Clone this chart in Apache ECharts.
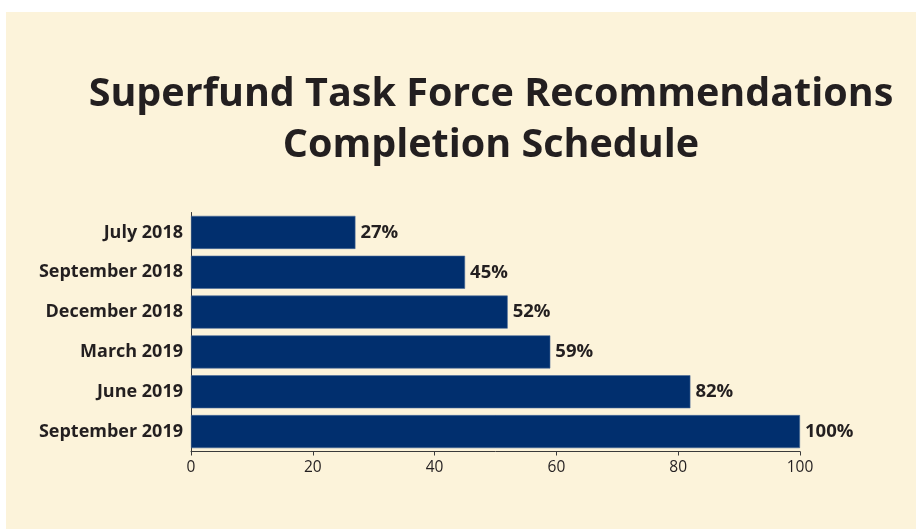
<!DOCTYPE html>
<html><head><meta charset="utf-8">
<script src="https://cdn.jsdelivr.net/npm/echarts@6/dist/echarts.min.js"></script>
<style>html,body{margin:0;padding:0;background:#fff;}#c{width:916px;height:529px;}</style>
</head><body><div id="c"></div>
<script>
const categories = ["July 2018","September 2018","December 2018","March 2019","June 2019","September 2019"];
const values = [27,45,52,59,82,100];
const titleLines = ["Superfund Task Force Recommendations","Completion Schedule"];
const xTicks = [0,20,40,60,80,100];

const chart = echarts.init(document.getElementById('c'), null, {renderer:'canvas'});
chart.setOption({
  backgroundColor:'#ffffff',
  animation:false,
  graphic:[{type:'rect', z:-10, shape:{x:6,y:12,width:910,height:517}, style:{fill:'#FCF3DA'}}],
  title:{
    text: titleLines.join('\n'),
    left: 486, top: 64, textAlign:'center',
    textStyle:{fontFamily:'Open Sans', fontWeight:'bold', fontSize:39.5, lineHeight:51, color:'#231F20'}
  },
  grid:{left:191, right:116, top:212.5, bottom:77.5, containLabel:false},
  xAxis:{type:'value', min:0, max:100, interval:20,
    axisLine:{show:true, lineStyle:{color:'#3a3a3a', width:1}},
    axisTick:{show:true, length:4, lineStyle:{color:'#3a3a3a'}},
    splitLine:{show:false},
    axisLabel:{fontFamily:'Open Sans', fontSize:15.5, color:'#231F20', margin:8,
      formatter:v=> xTicks.includes(v)? String(v):''}
  },
  yAxis:{type:'category', data:categories, inverse:true,
    axisLine:{show:true, lineStyle:{color:'#3a3a3a', width:1}},
    axisTick:{show:false},
    axisLabel:{fontFamily:'Open Sans', fontWeight:'bold', fontSize:18, color:'#231F20', margin:8}
  },
  series:[{type:'bar', data:values, barCategoryGap:'17%',
    itemStyle:{color:'#012F6E', borderColor:'#4a6a98', borderWidth:0.6},
    label:{show:true, position:'right', distance:5, formatter:p=>p.value+'%',
      fontFamily:'Open Sans', fontWeight:'bold', fontSize:18.5, color:'#231F20'}
  }]
});
</script></body></html>
